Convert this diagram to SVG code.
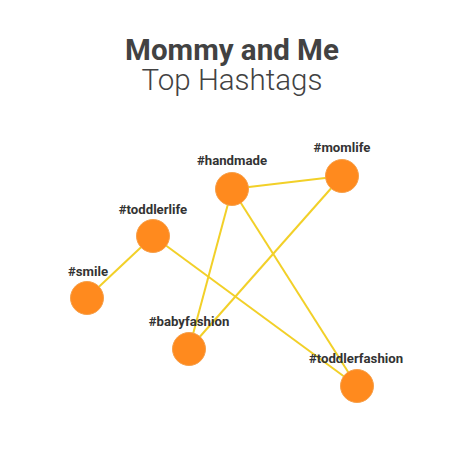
<svg xmlns="http://www.w3.org/2000/svg" width="464" height="464" viewBox="0 0 464 464">
<style>
.title{font-family:Roboto,"Liberation Sans",sans-serif;font-size:29.5px;fill:#424242;text-anchor:middle}
.t1{font-weight:700}
.t2{font-weight:300}
.edge{stroke:#F2D028;stroke-width:2;fill:none}
.node{fill:#FF8A1E;stroke:#F7A04A;stroke-width:1}
.lbl{font-family:Roboto,"Liberation Sans",sans-serif;font-size:13.2px;font-weight:700;fill:#333;text-anchor:middle}
</style>
<rect width="464" height="464" fill="#fff"/>
<text class="title t1" x="232" y="60">Mommy and Me</text>
<text class="title t2" x="232" y="90">Top Hashtags</text>
<g id="connectors">
<line class="edge" x1="87" y1="298" x2="153" y2="236"/>
<line class="edge" x1="153" y1="236" x2="357" y2="386"/>
<line class="edge" x1="232" y1="189" x2="342" y2="176"/>
<line class="edge" x1="232" y1="189" x2="189" y2="349"/>
<line class="edge" x1="232" y1="189" x2="357" y2="386"/>
<line class="edge" x1="342" y1="176" x2="189" y2="349"/>
</g>
<g id="handmade"><circle class="node" cx="232" cy="189" r="16.5"/><text class="lbl" x="232" y="165">#handmade</text></g>
<g id="momlife"><circle class="node" cx="342" cy="176" r="16.5"/><text class="lbl" x="342" y="152">#momlife</text></g>
<g id="toddlerlife"><circle class="node" cx="153" cy="236" r="16.5"/><text class="lbl" x="153" y="214">#toddlerlife</text></g>
<g id="smile"><circle class="node" cx="87" cy="298" r="16.5"/><text class="lbl" x="88" y="276">#smile</text></g>
<g id="babyfashion"><circle class="node" cx="189" cy="349" r="16.5"/><text class="lbl" x="189" y="326">#babyfashion</text></g>
<g id="toddlerfashion"><circle class="node" cx="357" cy="386" r="16.5"/><text class="lbl" x="356" y="363">#toddlerfashion</text></g>
</svg>
